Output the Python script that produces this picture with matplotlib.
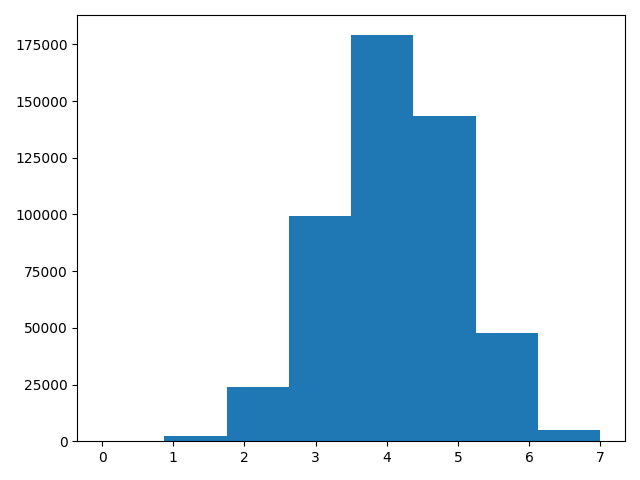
import matplotlib
matplotlib.use("Agg")
import matplotlib.pyplot as plt
import numpy as np

# histogram counts, 8 bins spanning 0..7
bin_edges = np.linspace(0, 7, 9)
counts = [100, 2200, 23950, 99200, 179000, 143300, 47600, 4850]

centers = (bin_edges[:-1] + bin_edges[1:]) / 2

fig, ax = plt.subplots(figsize=(6.4, 4.8), dpi=100)
ax.hist(centers, bins=bin_edges, weights=counts, color="#1f77b4")

plt.tight_layout()
plt.savefig("out.png", dpi=100)
